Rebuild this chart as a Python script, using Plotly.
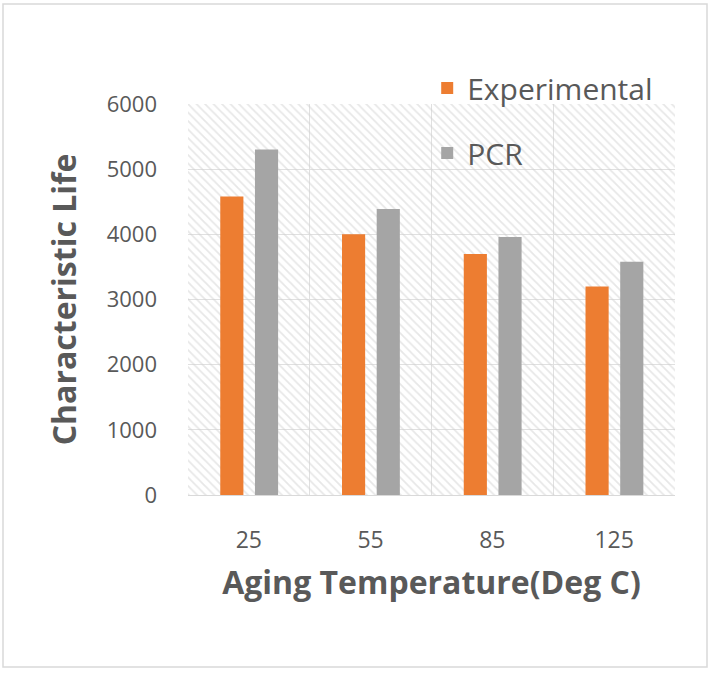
import plotly.graph_objects as go

categories = ["25", "55", "85", "125"]
experimental = [4580, 4000, 3700, 3200]
pcr = [5300, 4390, 3960, 3580]
y_ticks = [0, 1000, 2000, 3000, 4000, 5000, 6000]

xpos = list(range(len(categories)))
boundaries = [i - 0.5 for i in range(len(categories) + 1)]
ymax = max(y_ticks)

txt = "#595959"
font_family = "Open Sans, Noto Sans, sans-serif"

fig = go.Figure()

# hatched plot-area background (decorative)
fig.add_trace(go.Bar(
    x=[(len(categories) - 1) / 2], y=[ymax], width=[len(categories)],
    marker=dict(color="rgba(0,0,0,0)", line=dict(width=0),
                pattern=dict(shape="\\", fgcolor="#d0d0d0", bgcolor="rgba(0,0,0,0)",
                             size=6, solidity=0.3, fillmode="overlay")),
    showlegend=False, hoverinfo="skip",
))

fig.add_trace(go.Bar(
    x=xpos, y=experimental, name="Experimental", width=0.19, offset=-0.235,
    marker=dict(color="#ED7D31", line=dict(width=0)), legend="legend",
))
fig.add_trace(go.Bar(
    x=xpos, y=pcr, name="PCR", width=0.19, offset=0.05,
    marker=dict(color="#A5A5A5", line=dict(width=0)), legend="legend2",
))

fig.update_layout(
    width=712, height=673,
    margin=dict(l=188, r=37, t=104, b=178, autoexpand=False),
    barmode="overlay",
    paper_bgcolor="white", plot_bgcolor="white",
    font=dict(family=font_family, color=txt),
    legend=dict(x=0.6, y=1 - 88 / 673, xref="container", yref="container",
                xanchor="left", yanchor="middle", bgcolor="rgba(0,0,0,0)",
                font=dict(size=30, color=txt), itemwidth=30),
    legend2=dict(x=0.6, y=1 - 153 / 673, xref="container", yref="container",
                 xanchor="left", yanchor="middle", bgcolor="rgba(0,0,0,0)",
                 font=dict(size=30, color=txt), itemwidth=30),
    xaxis=dict(
        range=[-0.5, len(categories) - 0.5],
        tickvals=xpos, ticktext=categories, showgrid=False,
        tickfont=dict(size=23, color=txt), ticks="", ticklabelstandoff=24,
        showline=True, linecolor="#d9d9d9", linewidth=1,
        minor=dict(tickvals=boundaries, showgrid=True, gridcolor="#e0e0e0", gridwidth=1, ticks=""),
        title=dict(text="<b>Aging Temperature(Deg C)</b>", font=dict(size=32, color=txt), standoff=18),
        zeroline=False,
    ),
    yaxis=dict(
        range=[0, ymax], tickvals=y_ticks, ticktext=[str(v) for v in y_ticks],
        showgrid=True, gridcolor="#e0e0e0", gridwidth=1,
        tickfont=dict(size=22, color=txt), ticks="", ticklabelstandoff=30,
        zeroline=False,
        title=dict(text="<b>Characteristic Life</b>", font=dict(size=32, color=txt), standoff=20),
    ),
    shapes=[dict(type="rect", xref="paper", yref="paper",
                 x0=-185 / 487, x1=1 + 32 / 487, y0=-172 / 391, y1=1 + 100 / 391,
                 line=dict(color="#d9d9d9", width=1.5), layer="below")],
)

fig.write_html("out.html")
